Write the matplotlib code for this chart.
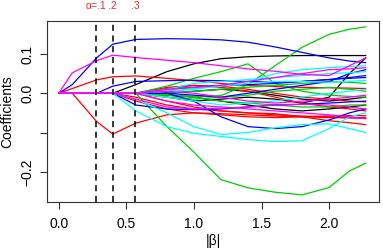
import numpy as np
import matplotlib
matplotlib.use("Agg")
import matplotlib.pyplot as plt

# ---- data: coefficient paths ----
beta_norm = [0, 0.1, 0.28, 0.4, 0.57, 0.8, 1.0, 1.2, 1.4, 1.6, 1.8, 2.0, 2.15, 2.27]

black_paths = [
    [0, 0, 0, 0, 0.022, 0.055, 0.075, 0.088, 0.093, 0.095, 0.096, 0.096, 0.096, 0.096],
    [0, 0, 0, 0, 0, -0.01, -0.02, -0.015, -0.01, -0.015, -0.025, -0.01, 0.05, 0.09],
    [0, 0, 0, 0, 0, -0.005, -0.01, -0.02, -0.03, -0.04, -0.045, -0.04, -0.035, -0.03],
    [0, 0, 0, 0, 0, 0.0, 0.005, 0.01, 0.005, -0.005, -0.015, -0.02, -0.015, -0.01],
]
red_paths = [
    [0, 0.012, 0.034, 0.042, 0.044, 0.038, 0.032, 0.025, 0.02, 0.017, 0.015, 0.014, 0.013, 0.012],
    [0, 0, -0.072, -0.104, -0.076, -0.055, -0.05, -0.052, -0.055, -0.058, -0.06, -0.062, -0.063, -0.064],
    [0, 0, 0, 0, -0.02, -0.04, -0.05, -0.055, -0.06, -0.062, -0.06, -0.058, -0.057, -0.057],
    [0, 0, 0, 0, -0.01, -0.03, -0.04, -0.045, -0.05, -0.055, -0.058, -0.06, -0.062, -0.062],
    [0, 0, 0, 0, 0, 0.012, 0.02, 0.015, 0.005, -0.01, -0.025, -0.035, -0.04, -0.045],
    [0, 0, 0, 0, 0, 0.015, 0.02, 0.018, 0.01, 0.0, -0.01, -0.015, -0.02, -0.022],
    [0, 0, 0, 0, 0, -0.02, -0.035, -0.045, -0.05, -0.052, -0.06, -0.07, -0.075, -0.08],
]
green_paths = [
    [0, 0, 0, 0, 0, -0.085, -0.15, -0.22, -0.241, -0.252, -0.259, -0.24, -0.198, -0.178],
    [0, 0, 0, 0, 0, -0.004, -0.008, -0.006, 0.022, 0.07, 0.117, 0.15, 0.163, 0.169],
    [0, 0, 0, 0, 0, 0.018, 0.038, 0.055, 0.075, 0.025, 0.005, -0.005, -0.008, -0.01],
    [0, 0, 0, 0, 0, -0.005, -0.01, -0.02, -0.025, -0.03, -0.035, -0.035, -0.03, -0.03],
    [0, 0, 0, 0, 0, 0.0, 0.005, 0.01, 0.015, 0.02, 0.025, 0.03, 0.028, 0.025],
    [0, 0, 0, 0, 0, -0.01, -0.015, -0.01, -0.005, 0.005, 0.01, 0.015, 0.01, 0.005],
]
blue_paths = [
    [0, 0.022, 0.09, 0.125, 0.137, 0.139, 0.138, 0.136, 0.13, 0.118, 0.104, 0.09, 0.082, 0.078],
    [0, 0, 0, 0.018, 0.03, 0.032, 0.033, 0.032, 0.03, 0.028, 0.03, 0.035, 0.04, 0.045],
    [0, 0, 0, 0, -0.03, -0.04, -0.042, -0.04, -0.035, -0.03, -0.028, -0.025, -0.022, -0.02],
    [0, 0, 0, 0, 0, 0, -0.02, -0.06, -0.085, -0.09, -0.085, -0.068, -0.05, -0.04],
    [0, 0, 0, 0, 0, 0.0, -0.005, -0.01, 0.0, 0.01, 0.02, 0.03, 0.05, 0.06],
    [0, 0, 0, 0, 0, 0.01, 0.015, 0.02, 0.022, 0.025, 0.03, 0.035, 0.038, 0.04],
]
cyan_paths = [
    [0, 0, 0, 0, -0.015, -0.05, -0.085, -0.105, -0.1, -0.088, -0.08, -0.078, -0.09, -0.1],
    [0, 0, 0, 0, -0.045, -0.085, -0.102, -0.11, -0.118, -0.123, -0.121, -0.09, -0.06, -0.05],
    [0, 0, 0, 0, 0, 0.01, 0.025, 0.03, 0.035, 0.04, 0.045, 0.05, 0.052, 0.055],
    [0, 0, 0, 0, 0, 0.005, 0.01, 0.02, 0.03, 0.05, 0.06, 0.065, 0.068, 0.07],
    [0, 0, 0, 0, 0, -0.01, -0.02, -0.03, -0.025, -0.02, -0.01, 0.0, 0.005, 0.01],
    [0, 0, 0, 0, 0, 0.005, 0.012, 0.018, 0.025, 0.03, 0.03, 0.028, 0.03, 0.033],
]
magenta_paths = [
    [0, 0.052, 0.083, 0.097, 0.091, 0.084, 0.078, 0.07, 0.062, 0.056, 0.048, 0.045, 0.07, 0.09],
    [0, 0, 0, 0, -0.015, -0.035, -0.04, -0.038, -0.035, -0.03, -0.028, -0.03, -0.035, -0.04],
    [0, 0, 0, 0, 0, 0.01, 0.015, 0.02, 0.03, 0.04, 0.05, 0.06, 0.062, 0.065],
    [0, 0, 0, 0, 0, 0.005, 0.0, -0.01, -0.02, -0.025, -0.02, -0.015, -0.01, -0.005],
    [0, 0, 0, 0, 0, -0.02, -0.03, -0.035, -0.04, -0.045, -0.05, -0.055, -0.06, -0.065],
]

alpha_steps = [0.276, 0.40, 0.567]
alpha_labels = ["\u03b1=.1", ".2", ".3"]

# R default palette colours
path_groups = [
    ("#000000", black_paths),
    ("#FF0000", red_paths),
    ("#00CD00", green_paths),
    ("#0000FF", blue_paths),
    ("#00FFFF", cyan_paths),
    ("#FF00FF", magenta_paths),
]

plt.rcParams['font.family'] = ['Liberation Sans', 'DejaVu Sans']

fig = plt.figure(figsize=(3.83, 2.5), dpi=100)
ax = fig.add_axes([0.122, 0.192, 0.868, 0.724])

for col, paths in path_groups:
    for p in paths:
        ax.plot(beta_norm, p, color=col, lw=0.9, solid_joinstyle='round')

for xv in alpha_steps:
    ax.axvline(xv, color='black', ls=(0, (4, 3)), lw=1.1)

for xv, lab in zip(alpha_steps, alpha_labels):
    ax.text(xv, 1.083, lab, transform=ax.get_xaxis_transform(), color='#E03030',
            ha='center', va='center', fontsize=7.5)

ax.set_xlim(-0.089, 2.37)
ax.set_ylim(-0.277, 0.184)
ax.set_xticks([0.0, 0.5, 1.0, 1.5, 2.0])
ax.set_xticklabels(["0.0", "0.5", "1.0", "1.5", "2.0"])
ax.set_yticks([-0.2, -0.1, 0.0, 0.1])
ax.set_yticklabels(["\u22120.2", "", "0.0", "0.1"])
ax.tick_params(length=5, width=0.8, color='#333333', labelsize=10, pad=4)
ax.tick_params(axis='x', pad=6)
ax.tick_params(axis='y', labelrotation=90)
for t in ax.get_yticklabels():
    t.set_va('center')
for s in ax.spines.values():
    s.set_color('#333333')
    s.set_linewidth(0.8)

ax.set_xlabel("|\u03b2|", fontsize=10, labelpad=2)
ax.set_ylabel("Coefficients", fontsize=10, labelpad=4)

fig.savefig("out.png", dpi=100)
